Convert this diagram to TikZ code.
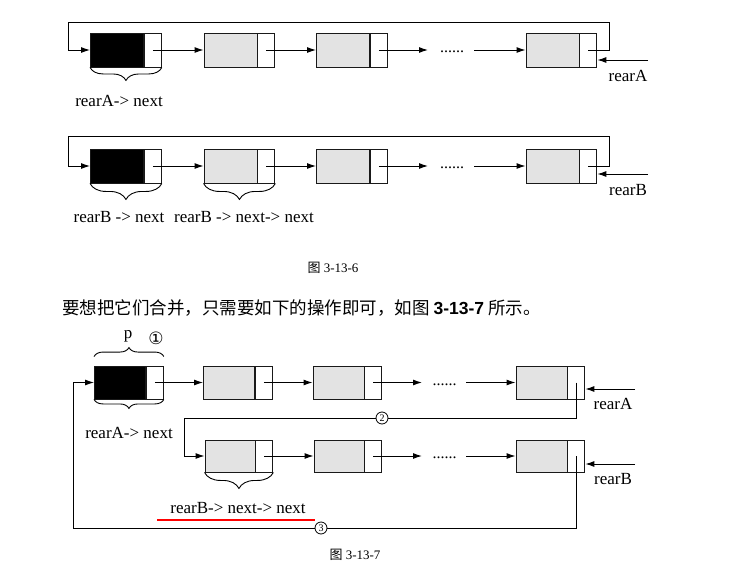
\documentclass[tikz,border=0pt]{standalone}
\usepackage{fontspec}
\setmainfont{Liberation Serif}
\newfontfamily\cjk{Noto Sans CJK SC}
\newfontfamily\numsans{Liberation Sans}
\newfontfamily\circfont{DejaVu Sans}
\usetikzlibrary{arrows.meta,decorations.pathreplacing,calc}
\begin{document}
\begin{tikzpicture}[x=1pt,y=-1pt,
  box/.style={draw=black!90, line width=0.9pt, inner sep=0pt, minimum height=34pt},
  datum/.style={box, fill=gray!22, minimum width=53pt},
  headbox/.style={box, fill=black, minimum width=53pt},
  ptr/.style={box, fill=white, minimum width=17pt, anchor=west},
  arr/.style={line width=1pt, -{Latex[length=9pt,width=6pt]}},
  lbl/.style={font=\fontsize{17pt}{19pt}\selectfont, inner sep=0pt},
  dotsnode/.style={font=\fontsize{16pt}{18pt}\selectfont, inner sep=0pt, anchor=base},
  brc/.style={decorate, decoration={brace, amplitude=#1}, line width=0.9pt},
  brc/.default=10pt,
  circ/.style={draw, circle, fill=white, inner sep=0pt, minimum size=12pt, font=\fontsize{10pt}{10pt}\selectfont, line width=0.8pt}
]
\useasboundingbox[fill=white] (0,0) rectangle (748,563);

% ---------- Row 1 ----------
\node[headbox] (a1) at (117,50) {};
\node[ptr] (a1p) at (a1.east) {};
\node[datum] (a2) at (230.5,50) {};
\node[ptr] (a2p) at (a2.east) {};
\node[datum] (a3) at (343,50) {};
\node[ptr] (a3p) at (a3.east) {};
\node[datum] (a4) at (552.5,50) {};
\node[ptr] (a4p) at (a4.east) {};
\draw[arr] (a1p.center) -- (a2.west);
\draw[arr] (a2p.center) -- (a3.west);
\coordinate (a3e) at (428,50);
\draw[arr] (a3p.center) -- (a3e);
\node[dotsnode] (ad) at (452,52.5) {......};
\coordinate (a4s) at (474,50);
\draw[arr] (a4s) -- (a4.west);
\draw[arr] (a4p.center) -- (609,50) |- (68,22) |- (a1.west);
\coordinate (ra) at (648,60);
\draw[arr] (ra) -- (a4p.east |- ra);
\node[lbl] (rAt) at (628,76) {rearA};
\draw[brc=13pt] (a1p.south east) -- (a1.south west);
\node[lbl] (t1) at (119,101) {rearA-> next};

% ---------- Row 2 ----------
\node[headbox] (b1) at (117,166) {};
\node[ptr] (b1p) at (b1.east) {};
\node[datum] (b2) at (230.5,166) {};
\node[ptr] (b2p) at (b2.east) {};
\node[datum] (b3) at (343,166) {};
\node[ptr] (b3p) at (b3.east) {};
\node[datum] (b4) at (552.5,166) {};
\node[ptr] (b4p) at (b4.east) {};
\draw[arr] (b1p.center) -- (b2.west);
\draw[arr] (b2p.center) -- (b3.west);
\coordinate (b3e) at (428,166);
\draw[arr] (b3p.center) -- (b3e);
\node[dotsnode] (bd) at (452,168.5) {......};
\coordinate (b4s) at (474,166);
\draw[arr] (b4s) -- (b4.west);
\draw[arr] (b4p.center) -- (609,166) |- (68,136) |- (b1.west);
\coordinate (rb) at (648,174);
\draw[arr] (rb) -- (b4p.east |- rb);
\node[lbl] (rBt) at (628,190) {rearB};
\draw[brc=16pt] (b1p.south east) -- (b1.south west);
\draw[brc=16pt] (b2p.south east) -- (b2.south west);
\node[lbl] (t2) at (119,217) {rearB -> next};
\node[lbl] (t3) at (244,217) {rearB -> next-> next};

% ---------- captions / text ----------
\node[font=\fontsize{13pt}{15pt}\selectfont, inner sep=0pt] (cap1) at (333,268) {{\cjk 图} 3-13-6};
\node[anchor=west, font=\cjk\fontsize{17.5pt}{19pt}\selectfont, inner sep=0pt] (para) at (62,308)
  {要想把它们合并，只需要如下的操作即可，如图 {\numsans\bfseries 3-13-7} 所示。};

% ---------- Row 3 ----------
\node[headbox, minimum width=51pt, minimum height=33pt] (c1) at (120,382.5) {};
\node[ptr, minimum height=33pt] (c1p) at (c1.east) {};
\node[datum, minimum width=51pt, minimum height=33pt] (c2) at (229,382.5) {};
\node[ptr, minimum height=33pt] (c2p) at (c2.east) {};
\node[datum, minimum width=51pt, minimum height=33pt] (c3) at (338.5,382.5) {};
\node[ptr, minimum height=33pt] (c3p) at (c3.east) {};
\node[datum, minimum width=51pt, minimum height=33pt] (c4) at (541.5,382.5) {};
\node[ptr, minimum height=33pt] (c4p) at (c4.east) {};
\draw[arr] (c1p.center) -- (c2.west);
\draw[arr] (c2p.center) -- (c3.west);
\coordinate (c3e) at (422,382.5);
\draw[arr] (c3p.center) -- (c3e);
\node[dotsnode] (cd) at (444.5,385) {......};
\coordinate (c4s) at (466,382.5);
\draw[arr] (c4s) -- (c4.west);
\coordinate (rc) at (635,389);
\draw[arr] (rc) -- (c4p.east |- rc);
\node[lbl] (rA2t) at (613,404) {rearA};
\draw[brc=9pt] ($(c1.north west)+(0,-9)$) -- ($(c1p.north east)+(0,-9)$);
\draw[brc=9pt] (c1p.south east) -- (c1.south west);
\node[lbl] (pt) at (128,336) {p};
\node[font=\circfont\fontsize{17pt}{17pt}\selectfont, inner sep=0pt] (n1) at (156,338) {①};
\node[lbl] (t4) at (129,433) {rearA-> next};

% ---------- Row 4 ----------
\node[datum, minimum width=50pt, minimum height=32pt] (d2) at (230,456) {};
\node[ptr, minimum height=32pt] (d2p) at (d2.east) {};
\node[datum, minimum width=50pt, minimum height=32pt] (d3) at (339,456) {};
\node[ptr, minimum height=32pt] (d3p) at (d3.east) {};
\node[datum, minimum width=51pt, minimum height=32pt] (d4) at (541.5,456) {};
\node[ptr, minimum height=32pt] (d4p) at (d4.east) {};
\draw[arr] (d2p.center) -- (d3.west);
\coordinate (d3e) at (422,456);
\draw[arr] (d3p.center) -- (d3e);
\node[dotsnode] (dd) at (444.5,458.5) {......};
\coordinate (d4s) at (466,456);
\draw[arr] (d4s) -- (d4.west);
\coordinate (rd) at (635,464);
\draw[arr] (rd) -- (d4p.east |- rd);
\node[lbl] (rB2t) at (613,479) {rearB};
\draw[brc=16pt] (d2p.south east) -- (d2.south west);
\node[lbl] (t5) at (238,508) {rearB-> next-> next};
\draw[red, line width=1.6pt] (157,520) -- (315,520);

% ---------- merge links ----------
\draw[arr] (c4p.center) |- (184,418) |- (d2.west);
\node[circ] (n2) at (382,418) {2};
\draw[arr] (d4p.center) |- (73,528) |- (c1.west);
\node[circ] (n3) at (321,528) {3};

\node[font=\fontsize{13pt}{15pt}\selectfont, inner sep=0pt] (cap2) at (355,555) {{\cjk 图} 3-13-7};
\end{tikzpicture}
\end{document}
